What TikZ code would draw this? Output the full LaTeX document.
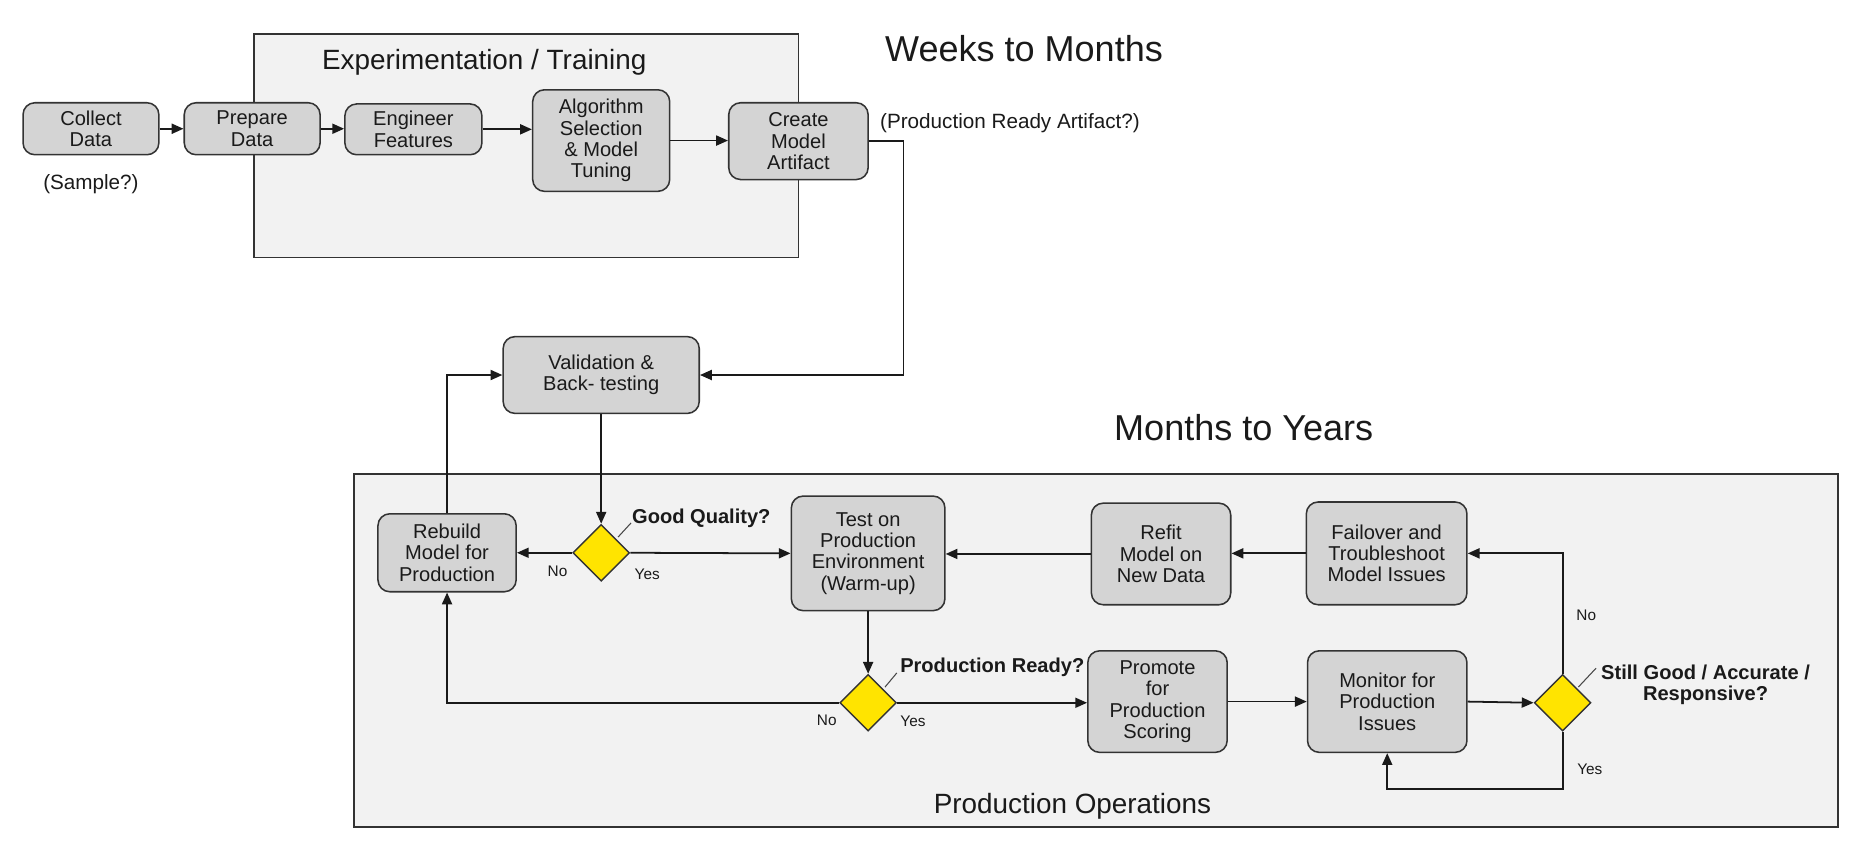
\documentclass[tikz,border=0pt]{standalone}
\usepackage{fontspec}
\setmainfont{Liberation Sans}
\usetikzlibrary{shapes.geometric,arrows.meta,calc}
\definecolor{boxgray}{HTML}{D4D4D4}
\definecolor{panel}{HTML}{F2F2F2}
\definecolor{frame}{HTML}{333333}
\definecolor{dyellow}{HTML}{FFE400}
\definecolor{ink}{HTML}{1A1A1A}
\begin{document}
\begin{tikzpicture}[x=1pt,y=-1pt,
  stepbox/.style={draw=frame, fill=boxgray, rounded corners=10pt, line width=1.3pt,
    align=center, font=\fontsize{17}{18}\selectfont, text=ink, inner sep=0pt},
  decision/.style={diamond, draw=frame, fill=dyellow, line width=1.2pt,
    minimum width=48pt, minimum height=48pt, inner sep=0pt},
  container/.style={draw=frame, fill=panel, line width=1.5pt},
  arr/.style={draw=ink, line width=1.5pt, -{Triangle[length=10pt,width=8.5pt]}},
  lead/.style={draw=ink!80, line width=0.9pt},
  yn/.style={font=\fontsize{13}{14}\selectfont, text=ink},
  qlabel/.style={font=\fontsize{17}{18}\selectfont\bfseries, text=ink, align=center, inner sep=0pt},
  bigtitle/.style={font=\fontsize{30.5}{32}\selectfont, text=ink},
  midtitle/.style={font=\fontsize{23.6}{25}\selectfont, text=ink},
  note/.style={font=\fontsize{17.5}{18}\selectfont, text=ink, inner sep=0pt}
]
\useasboundingbox (0,0) rectangle (1568,715);
\fill[white] (0,0) rectangle (1568,715);

% containers
\draw[container] (215,29) rectangle (676,218);
\draw[container] (300,401) rectangle (1556,700);

% titles
\node[midtitle] (ttrain) at (410,53) {Experimentation / Training};
\node[bigtitle] (tweeks) at (867,41) {Weeks to Months};
\node[bigtitle] (tmonths) at (1053,362) {Months to Years};
\node[midtitle] (tops) at (908,683) {Production Operations};

% top row
\node[stepbox, minimum width=115pt, minimum height=44pt] (collect) at (77,109) {Collect\\Data};
\node[stepbox, minimum width=115pt, minimum height=44pt] (prepare) at (213.5,109) {Prepare\\Data};
\node[stepbox, minimum width=116pt, minimum height=43pt] (engineer) at (350,109.5) {Engineer\\Features};
\node[stepbox, minimum width=116pt, minimum height=86pt] (algo) at (509,119) {Algorithm\\Selection\\\& Model\\Tuning};
\node[stepbox, minimum width=118pt, minimum height=65pt] (create) at (676,119.5) {Create\\Model\\Artifact};
\node[note] (sample) at (77,156) {(Sample?)};
\node[note, anchor=west] (artifactq) at (745,104) {(Production Ready Artifact?)};

% validation
\node[stepbox, minimum width=166pt, minimum height=65pt] (valid) at (509,317.5) {Validation \&\\Back- testing};

% production row 1
\node[stepbox, minimum width=117pt, minimum height=66pt] (rebuild) at (378.5,468) {Rebuild\\Model for\\Production};
\node[decision] (d1) at (509,468) {};
\node[stepbox, minimum width=130pt, minimum height=97pt] (test) at (735,468.5) {Test on\\Production\\Environment\\(Warm-up)};
\node[stepbox, minimum width=118pt, minimum height=86pt] (refit) at (983,469) {Refit\\Model on\\New Data};
\node[stepbox, minimum width=136pt, minimum height=87pt] (failover) at (1174,468.5) {Failover and\\Troubleshoot\\Model Issues};

% production row 2
\node[decision] (d2) at (735,595) {};
\node[stepbox, minimum width=118pt, minimum height=86pt] (promote) at (980,594) {Promote\\for\\Production\\Scoring};
\node[stepbox, minimum width=135pt, minimum height=86pt] (monitor) at (1174.5,594) {Monitor for\\Production\\Issues};
\node[decision] (d3) at (1323,595) {};

% question labels
\draw[lead] ($(d1.north east)+(2,-1)$) -- ++(11,-12);
\node[qlabel, anchor=west] (q1) at (535,438.5) {Good Quality?};
\draw[lead] ($(d2.north east)+(2,-1)$) -- ++(10,-12);
\node[qlabel, anchor=west] (q2) at (762,565) {Production Ready?};
\draw[lead] ($(d3.north east)+(1,-1)$) -- ++(15,-16);
\node[qlabel] (q3) at (1444,580) {Still Good / Accurate /\\Responsive?};

% yes / no
\node[yn] (no1) at (472,484) {No};
\node[yn] (yes1) at (548,486) {Yes};
\node[yn] (no2) at (700,610) {No};
\node[yn] (yes2) at (773,611) {Yes};
\node[yn] (no3) at (1343,521) {No};
\node[yn] (yes3) at (1346,651) {Yes};

% connectors top
\draw[arr] (collect.east) -- (prepare.west);
\draw[arr] (prepare.east) -- (prepare.east -| engineer.west);
\draw[arr] (engineer.east) -- (engineer.east -| algo.west);
\draw[arr] (algo.east) -- (algo.east -| create.west);
\coordinate (cr) at (765,119.5);
\draw[arr] (create.east) -- (cr) |- (valid.east);

% production connectors
\draw[arr] (valid.south) -- (d1.north);
\draw[arr] (d1.west) -- (rebuild.east);
\draw[arr] (d1.east) -- (test.west);
\draw[arr] (rebuild.north) |- (valid.west);
\draw[arr] (failover.west) -- (failover.west -| refit.east);
\draw[arr] (refit.west) -- (refit.west -| test.east);
\draw[arr] (test.south) -- (d2.north);
\draw[arr] (d2.west) -| (rebuild.south);
\draw[arr] (d2.east) -- (d2.east -| promote.west);
\draw[arr] (promote.east) -- (promote.east -| monitor.west);
\draw[arr] (monitor.east) -- (d3.west);
\draw[arr] (d3.north) |- (failover.east);
\coordinate (yb) at (1174.5,668);
\draw[arr] (d3.south) |- (yb) -- (monitor.south);
\end{tikzpicture}
\end{document}
